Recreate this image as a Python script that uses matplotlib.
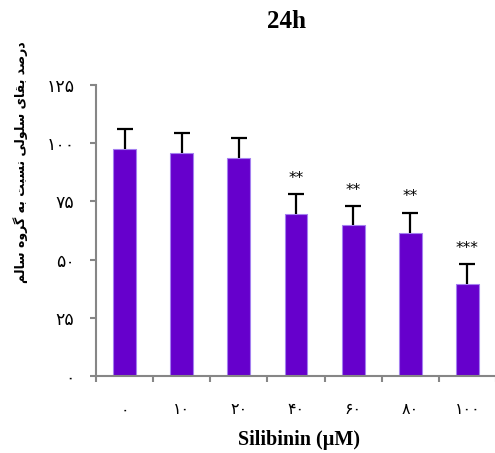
import matplotlib
matplotlib.use("Agg")
import matplotlib.pyplot as plt
import numpy as np

# data
categories = ["۰", "۱۰", "۲۰", "۴۰", "۶۰", "۸۰", "۱۰۰"]
values = [97.7, 95.8, 93.8, 69.8, 64.7, 61.6, 39.7]
errors = [8.4, 8.5, 8.3, 8.4, 8.3, 8.6, 8.3]
stars = ["", "", "", "**", "**", "**", "***"]
yticks = [0, 25, 50, 75, 100, 125]
ytick_labels = ["۰", "۲۵", "۵۰", "۷۵", "۱۰۰", "۱۲۵"]
title = "24h"
xlabel = "Silibinin (µM)"

# Persian y-label, shaped with Arabic presentation forms (logical order, then reversed for display)
words = [
    "\uFEA9\uFEAD\uFEBB\uFEAA",          # درصد
    "\uFE91\uFED8\uFE8E\uFBFC",          # بقای
    "\uFEB3\uFEE0\uFEEE\uFEDF\uFBFD",    # سلولی
    "\uFEE7\uFEB4\uFE92\uFE96",          # نسبت
    "\uFE91\uFEEA",                      # به
    "\uFB94\uFEAE\uFEED\uFEE9",          # گروه
    "\uFEB3\uFE8E\uFEDF\uFEE2",          # سالم
]
ylabel = " ".join(words)[::-1]

W, H = 495, 453
fig = plt.figure(figsize=(W / 100, H / 100), dpi=100)
ax = fig.add_axes([96 / W, 1 - 376 / H, 400 / W, (376 - 85) / H])

axis_color = "#868686"
x = np.arange(len(values))
bars = ax.bar(x, values, width=0.4, color="#6600CC", edgecolor="#A580F0", linewidth=0.8,
              yerr=[[0] * len(values), errors], capsize=5.5,
              error_kw=dict(ecolor="black", elinewidth=1.6, capthick=1.6), zorder=2)
# hide the lower caps (only upper error shown)
caplines = bars.errorbar.lines[1]
if len(caplines) >= 2:
    caplines[0].set_visible(False)

for xi, v, e, s in zip(x, values, errors, stars):
    if s:
        ax.text(xi, v + e + 3.5, s, ha="center", va="bottom", fontsize=11,
                family="DejaVu Sans", color="black")

ax.set_xlim(-0.5, len(values) - 0.5)
ax.set_ylim(0, 125)

for side in ["top", "right"]:
    ax.spines[side].set_visible(False)
for side in ["left", "bottom"]:
    ax.spines[side].set_color(axis_color)
    ax.spines[side].set_linewidth(1.5)

ax.set_yticks(yticks)
ax.set_yticklabels(ytick_labels, family="DejaVu Sans", fontsize=12.5)
ax.tick_params(axis="y", direction="out", length=4.5, width=1.5, color=axis_color, pad=11)

ax.set_xticks(np.arange(-0.5, len(values), 1.0))
ax.set_xticklabels([])
ax.tick_params(axis="x", which="major", direction="out", length=4.5, width=1.5, color=axis_color)
ax.set_xticks(x, minor=True)
ax.set_xticklabels(categories, minor=True, family="DejaVu Sans", fontsize=11.5)
ax.tick_params(axis="x", which="minor", length=0, pad=19)

fig.text(287 / W, 1 - 22 / H, title, ha="center", va="center", fontsize=18,
         fontweight="bold", family="Liberation Serif")
fig.text(299 / W, 1 - 440 / H, xlabel, ha="center", va="center", fontsize=14.5,
         fontweight="bold", family="Liberation Serif")
fig.text(21 / W, 1 - 162 / H, ylabel, ha="center", va="center", rotation=90,
         fontsize=9, fontweight="bold", family="DejaVu Sans")

fig.savefig("out.png", dpi=100)
